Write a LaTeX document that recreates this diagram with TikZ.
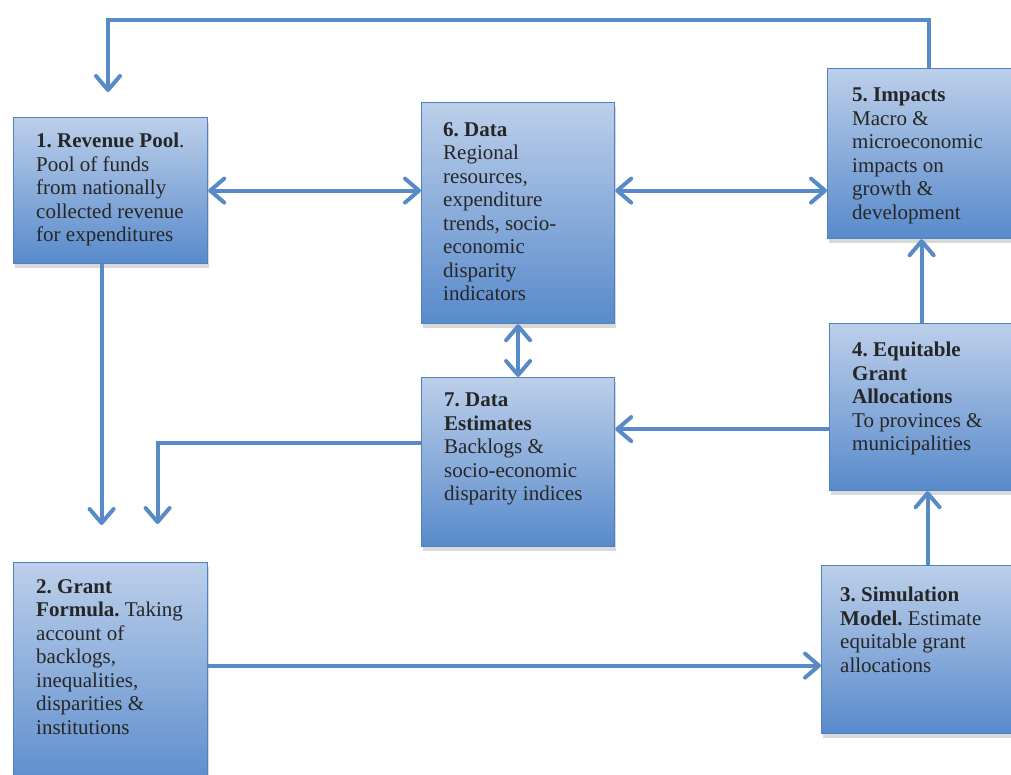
\documentclass[tikz,border=0pt]{standalone}
\usepackage{fontspec}
\setmainfont{Liberation Serif}
\usetikzlibrary{arrows.meta,calc,shadows}
\definecolor{boxtop}{RGB}{188,207,234}
\definecolor{boxbottom}{RGB}{88,138,203}
\definecolor{boxline}{RGB}{79,129,189}
\definecolor{arrowblue}{RGB}{88,138,200}
\frenchspacing

\begin{document}
\begin{tikzpicture}[x=1pt,y=-1pt,
  box/.style={draw=boxline, line width=1.2pt, top color=boxtop, bottom color=boxbottom,
    anchor=north west, drop shadow={shadow xshift=1pt,shadow yshift=-4pt,opacity=0.3}},
  txt/.style={anchor=north west, inner sep=0pt, align=left,
    font=\fontsize{21}{23.5}\selectfont, text=black!85},
  arr/.style={arrowblue, line width=4pt, -{Straight Barb[length=14pt,width=24pt,round]}},
  arrs/.style={arrowblue, line width=4pt,
    {Straight Barb[length=14pt,width=24pt,round]}-{Straight Barb[length=14pt,width=24pt,round]}}]
\useasboundingbox (0,0) rectangle (1011,774);

% boxes
\node[box, minimum width=194, minimum height=146] (pool) at (13,117) {};
\node[box, minimum width=193, minimum height=221] (data) at (421,102) {};
\node[box, minimum width=186, minimum height=170] (impacts) at (827,68) {};
\node[box, minimum width=184, minimum height=167] (alloc) at (829,323) {};
\node[box, minimum width=193, minimum height=169] (estim) at (421,377) {};
\node[box, minimum width=194, minimum height=232] (formula) at (13,562) {};
\node[box, minimum width=192, minimum height=168] (sim) at (821,565) {};

\node[txt] at ([shift={(23,16)}]pool.north west)
  {\textbf{1. Revenue Pool}.\\Pool of funds\\from nationally\\collected revenue\\for expenditures};
\node[txt] at ([shift={(22,20)}]data.north west)
  {\textbf{6. Data}\\Regional\\resources,\\expenditure\\trends, socio-\\economic\\disparity\\indicators};
\node[txt] at ([shift={(25,20)}]impacts.north west)
  {\textbf{5. Impacts}\\Macro \&\\microeconomic\\impacts on\\growth \&\\development};
\node[txt] at ([shift={(23,19)}]alloc.north west)
  {\textbf{4. Equitable}\\\textbf{Grant}\\\textbf{Allocations}\\To provinces \&\\municipalities};
\node[txt] at ([shift={(23,16)}]estim.north west)
  {\textbf{7. Data}\\\textbf{Estimates}\\Backlogs \&\\socio-economic\\disparity indices};
\node[txt] at ([shift={(23,17)}]formula.north west)
  {\textbf{2. Grant}\\\textbf{Formula.} Taking\\account of\\backlogs,\\inequalities,\\disparities \&\\institutions};
\node[txt] at ([shift={(19,22)}]sim.north west)
  {\textbf{3. Simulation}\\\textbf{Model.} Estimate\\equitable grant\\allocations};

% connectors
\coordinate (loop) at (108,20);
\coordinate (looptip) at (108,92);
\draw[arr] ($(impacts.north)+(8,0)$) |- (loop) -- (looptip);
\draw[arrs] (pool.east) -- (pool.east -| data.west);
\draw[arrs] (data.east |- pool.east) -- (impacts.west |- pool.east);
\draw[arrs] (data.south) -- (estim.north);
\draw[arr] ($(pool.south)+(-9,0)$) -- ($(formula.north)+(-9,-37)$);
\draw[arr] ($(estim.west)+(0,-19)$) -| ($(formula.north)+(47,-38)$);
\draw[arr] ($(alloc.west)+(0,22)$) coordinate (a4) -- (estim.east |- a4);
\draw[arr] (alloc.north) -- (alloc.north |- impacts.south);
\draw[arr] ($(sim.north)+(10,0)$) coordinate (s3) -- (s3 |- alloc.south);
\coordinate (s2) at ($(sim.west)+(0,16)$);
\draw[arr] (formula.east |- s2) -- (s2);
\end{tikzpicture}
\end{document}
